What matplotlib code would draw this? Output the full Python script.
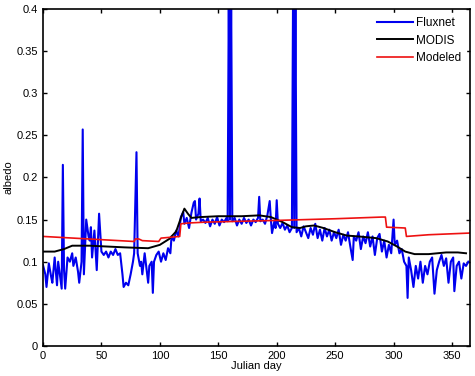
import matplotlib
matplotlib.use("Agg")
import matplotlib.pyplot as plt

plt.rcParams["font.family"] = ["Liberation Sans", "DejaVu Sans"]

# Fluxnet (daily)
flux_day = [0, 2, 3, 5, 7, 8, 10, 12, 13, 15, 16, 17, 18, 19, 21, 23, 25, 26, 28, 30,
            31, 33, 34, 35, 37, 39, 40, 41, 42, 44, 46, 48, 50, 52, 54, 56, 58, 60, 62, 64,
            66, 68, 69, 71, 73, 75, 77, 78, 80, 81, 83, 84, 85, 87, 88, 90, 91, 93, 94, 95,
            97, 99, 101, 103, 105, 107, 109, 110, 112, 114, 116, 118, 120, 121, 123, 125, 127, 129, 130, 131,
            133, 134, 135, 137, 139, 141, 143, 145, 147, 149, 151, 153, 155, 157, 158, 159, 160, 161, 162, 164,
            166, 168, 170, 172, 174, 176, 178, 180, 182, 184, 185, 186, 188, 190, 192, 194, 195, 196, 198, 199,
            200, 201, 203, 205, 207, 209, 211, 213, 214, 215, 216, 217, 219, 221, 223, 225, 227, 229, 231, 233,
            235, 237, 239, 241, 243, 245, 247, 249, 251, 253, 255, 257, 259, 261, 263, 265, 266, 268, 270, 272,
            274, 276, 278, 280, 282, 284, 286, 288, 290, 292, 294, 296, 298, 300, 301, 303, 305, 307, 309, 311,
            312, 313, 315, 317, 319, 321, 323, 325, 327, 329, 331, 333, 335, 337, 339, 341, 343, 345, 347, 349,
            351, 352, 354, 356, 358, 360, 362, 364]
flux_val = [0.096, 0.085, 0.070, 0.098, 0.082, 0.075, 0.105, 0.072, 0.100, 0.078, 0.068, 0.215, 0.090, 0.068, 0.105, 0.100, 0.110, 0.095, 0.105, 0.088,
            0.075, 0.100, 0.257, 0.085, 0.150, 0.130, 0.125, 0.141, 0.105, 0.137, 0.090, 0.157, 0.112, 0.108, 0.112, 0.105, 0.112, 0.108, 0.115, 0.108,
            0.110, 0.085, 0.070, 0.075, 0.072, 0.085, 0.100, 0.110, 0.230, 0.110, 0.095, 0.100, 0.085, 0.110, 0.098, 0.075, 0.095, 0.100, 0.063, 0.100,
            0.108, 0.112, 0.100, 0.110, 0.102, 0.116, 0.110, 0.130, 0.125, 0.137, 0.130, 0.153, 0.159, 0.145, 0.152, 0.140, 0.158, 0.170, 0.172, 0.150,
            0.157, 0.175, 0.148, 0.150, 0.146, 0.152, 0.142, 0.150, 0.145, 0.153, 0.143, 0.150, 0.147, 0.152, 0.148, 0.420, 0.150, 0.420, 0.148, 0.152,
            0.143, 0.150, 0.145, 0.152, 0.146, 0.150, 0.143, 0.150, 0.147, 0.152, 0.177, 0.148, 0.150, 0.145, 0.155, 0.172, 0.150, 0.134, 0.148, 0.140,
            0.173, 0.145, 0.140, 0.146, 0.138, 0.143, 0.135, 0.140, 0.420, 0.140, 0.420, 0.135, 0.140, 0.130, 0.142, 0.135, 0.128, 0.140, 0.132, 0.145,
            0.128, 0.138, 0.125, 0.140, 0.130, 0.138, 0.125, 0.135, 0.128, 0.138, 0.120, 0.132, 0.125, 0.135, 0.118, 0.102, 0.130, 0.125, 0.135, 0.115,
            0.130, 0.122, 0.135, 0.118, 0.130, 0.108, 0.128, 0.133, 0.112, 0.125, 0.105, 0.120, 0.110, 0.150, 0.120, 0.125, 0.110, 0.115, 0.100, 0.095,
            0.057, 0.105, 0.090, 0.070, 0.095, 0.080, 0.100, 0.075, 0.095, 0.085, 0.100, 0.105, 0.062, 0.090, 0.100, 0.108, 0.095, 0.104, 0.075, 0.100,
            0.105, 0.065, 0.095, 0.100, 0.080, 0.098, 0.095, 0.100]

# MODIS
modis_day = [0, 10, 18, 25, 40, 55, 70, 90, 100, 108, 114, 118, 121, 124, 127, 135, 150, 170, 185, 195,
             205, 213, 220, 225, 232, 240, 250, 260, 270, 285, 295, 303, 310, 318, 330, 345, 355, 362]
modis_val = [0.112, 0.112, 0.115, 0.119, 0.119, 0.118, 0.117, 0.116, 0.120, 0.127, 0.136, 0.152, 0.163, 0.157, 0.152, 0.153, 0.154, 0.154, 0.155, 0.153,
             0.147, 0.141, 0.140, 0.142, 0.143, 0.140, 0.135, 0.131, 0.130, 0.128, 0.124, 0.118, 0.112, 0.109, 0.109, 0.111, 0.111, 0.110]

# Modeled
model_day = [0, 78, 79, 82, 85, 99, 101, 117, 118, 125, 140, 200, 250, 290, 293, 294, 310, 311, 330, 365]
model_val = [0.130, 0.124, 0.127, 0.127, 0.125, 0.124, 0.128, 0.130, 0.145, 0.146, 0.147, 0.149, 0.151, 0.153, 0.153, 0.141, 0.140, 0.130, 0.132, 0.134]

fig = plt.figure(figsize=(4.75, 3.76), dpi=100)
ax = fig.add_axes([0.0905, 0.080, 0.898, 0.896])

ax.plot(flux_day, flux_val, color="#0000ee", lw=1.5, label="Fluxnet")
ax.plot(modis_day, modis_val, color="black", lw=1.4, label="MODIS")
ax.plot(model_day, model_val, color="#ee1111", lw=1.2, label="Modeled")

ax.set_xlim(0, 365)
ax.set_ylim(0, 0.4)
ax.set_xticks(range(0, 351, 50))
ax.set_yticks([0, 0.05, 0.1, 0.15, 0.2, 0.25, 0.3, 0.35, 0.4])
ax.set_yticklabels(["0", "0.05", "0.1", "0.15", "0.2", "0.25", "0.3", "0.35", "0.4"])
ax.tick_params(direction="in", top=True, right=True, labelsize=8, length=3, width=1)
for s in ax.spines.values():
    s.set_linewidth(1.2)

ax.set_xlabel("Julian day", fontsize=8, labelpad=0)
ax.set_ylabel("albedo", fontsize=8, labelpad=2)

leg = ax.legend(loc="upper right", fontsize=8.5, frameon=True, framealpha=1,
                edgecolor="white", handlelength=3.0, handletextpad=0.3,
                labelspacing=0.45, borderaxespad=0.3, fancybox=False)

fig.savefig("out.png", dpi=100)
